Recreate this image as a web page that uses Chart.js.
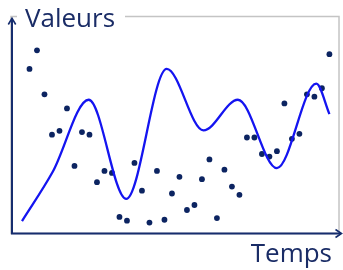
<!DOCTYPE html>
<html>
<head>
<meta charset="utf-8">
<script src="https://cdn.jsdelivr.net/npm/chart.js@4"></script>
<style>
  body { margin: 0; background: #fff; }
  canvas { display: block; }
</style>
</head>
<body>
<canvas id="chart" width="343" height="270"></canvas>
<script>
// mesures (points), positions 1..41
const mesures = [75.6, 84.2, 63.9, 45.3, 47.1, 57.4, 30.9, 46.5, 45.3, 23.4,
  28.6, 27.7, 7.4, 5.7, 32.3, 19.5, 4.8, 28.6, 6.1, 18.2,
  25.9, 10.6, 12.9, 24.8, 33.9, 6.9, 29.2, 21.4, 17.6, 44.0,
  44.0, 36.4, 35.2, 37.7, 59.7, 43.4, 45.7, 63.9, 62.8, 66.7, 82.4];

// courbe lissée
const courbeTemps = [0, 4.1, 8.9, 13.9, 19.3, 24.2, 28.8, 34.0, 39.25, 41];
const courbeValeurs = [5.5, 28.2, 61.4, 15.7, 75.6, 47.3, 61.4, 29.9, 68.8, 54.8];

const titreY = "Valeurs";
const titreX = "Temps";

const navy = "#0c2461";

const axes = {
  id: "axes",
  afterDraw(chart) {
    const ctx = chart.ctx;
    const a = chart.chartArea;
    ctx.save();
    // cadre gris
    ctx.strokeStyle = "#c4c4c4";
    ctx.lineWidth = 1.5;
    ctx.strokeRect(a.left, a.top + 0.5, a.right - a.left, a.bottom - a.top);

    // axes
    ctx.strokeStyle = "#162d6e";
    ctx.lineWidth = 2;
    ctx.beginPath();
    ctx.moveTo(12, 234);
    ctx.lineTo(12, 18.5);
    ctx.moveTo(11, 233.5);
    ctx.lineTo(341, 233.5);
    ctx.stroke();
    ctx.lineWidth = 1.6;
    ctx.beginPath();
    ctx.moveTo(8.3, 24.5);
    ctx.lineTo(12, 18.3);
    ctx.lineTo(15.7, 24.5);
    ctx.moveTo(335.5, 229.5);
    ctx.lineTo(341.5, 233.5);
    ctx.lineTo(335.5, 237.5);
    ctx.stroke();

    // titres
    ctx.font = "26px 'Open Sans'";
    ctx.textBaseline = "alphabetic";
    ctx.fillStyle = "#fff";
    ctx.fillRect(17, 2, 108, 26);
    ctx.fillStyle = "#1a2c66";
    ctx.textAlign = "left";
    ctx.fillText(titreY, 25, 27);
    ctx.textAlign = "right";
    ctx.fillText(titreX, 332, 262);
    ctx.restore();
  }
};

new Chart("chart", {
  type: "scatter",
  data: {
    datasets: [
      {
        type: "line",
        data: courbeTemps.map((t, i) => ({ x: t, y: courbeValeurs[i] })),
        borderColor: "#1414f0",
        borderWidth: 2.3,
        pointRadius: 0,
        fill: false,
        cubicInterpolationMode: "monotone",
        order: 0
      },
      {
        data: mesures.map((v, i) => ({ x: i + 1, y: v })),
        backgroundColor: navy,
        borderColor: navy,
        borderWidth: 0,
        pointRadius: 2.9,
        order: 1
      }
    ]
  },
  options: {
    responsive: false,
    animation: false,
    devicePixelRatio: 1,
    layout: { padding: { left: 11, right: 1, top: 16, bottom: 37 } },
    plugins: { legend: { display: false }, tooltip: { enabled: false } },
    scales: {
      x: { type: "linear", display: false, min: -1.467, max: 42.28 },
      y: { display: false, min: 0, max: 100 }
    }
  },
  plugins: [axes]
});
</script>
</body>
</html>
